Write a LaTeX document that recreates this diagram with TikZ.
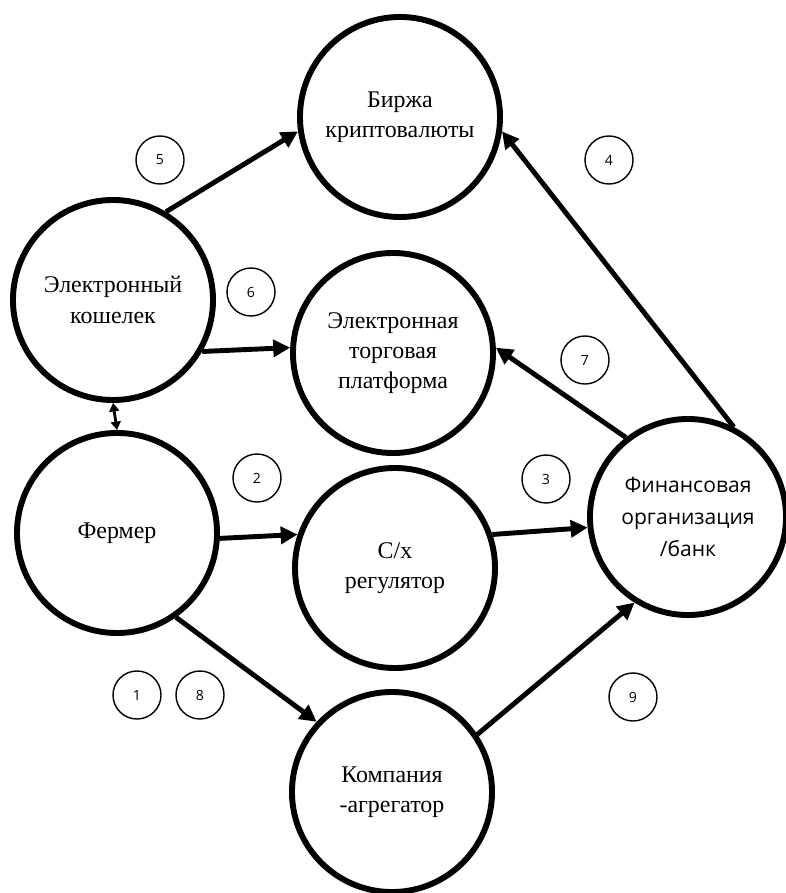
\documentclass[tikz,border=0pt]{standalone}
\usepackage{fontspec}
\setmainfont{Liberation Serif}
\newfontfamily\numfont{Open Sans}
\usetikzlibrary{arrows.meta}

\begin{document}
\begin{tikzpicture}[x=0.025cm,y=-0.025cm,
        actor/.style={draw,circle,line width=4.2pt,minimum size=5cm,inner sep=0pt,align=center,font=\fontsize{17}{21.5}\selectfont},
        num/.style={draw,circle,line width=1pt,minimum size=1.2cm,inner sep=0pt,font=\numfont\fontsize{10}{12}\selectfont},
        flow/.style={line width=3.5pt,-{Triangle[length=12pt,width=12pt]}}]
    \useasboundingbox (0,0) rectangle (785,893);
    \node[actor] (birzha) at (400,117) {Биржа\\криптовалюты};
    \node[actor] (wallet) at (113,300) {Электронный\\кошелек};
    \node[actor] (platform) at (393,353) {Электронная\\торговая\\платформа};
    \node[actor] (farmer) at (117,533) {Фермер};
    \node[actor] (regul) at (395,568) {С/х\\регулятор};
    \node[actor,minimum size=4.9cm,font=\numfont\fontsize{15}{23}\selectfont] (bank) at (688,517) {Финансовая\\организация\\/банк};
    \node[actor] (agg) at (392,792) {Компания\\-агрегатор};
    \node[num] (n5) at (160,160) {5};
    \node[num] (n4) at (609,160) {4};
    \node[num] (n6) at (251,292) {6};
    \node[num] (n7) at (585,360) {7};
    \node[num] (n2) at (257,478) {2};
    \node[num] (n3) at (546,479) {3};
    \node[num] (n1) at (137,695) {1};
    \node[num] (n8) at (200,695) {8};
    \node[num] (n9) at (633,697) {9};
    \draw[flow] (wallet.59) -- (birzha.188);
    \draw[flow] (wallet.-30) -- (platform.177);
    \draw[line width=2pt,{Triangle[length=6pt,width=7pt]}-{Triangle[length=6pt,width=7pt]}] (wallet.south) -- (farmer.north);
    \draw[flow] (bank.63) -- (birzha.-8);
    \draw[flow] (bank.128) -- (platform.3);
    \draw[flow] (farmer.-3) -- (regul.161);
    \draw[flow] (regul.19) -- (bank.186);
    \draw[flow] (farmer.-55) -- (agg.137);
    \draw[flow] (agg.34) -- (bank.238);
\end{tikzpicture}
\end{document}
